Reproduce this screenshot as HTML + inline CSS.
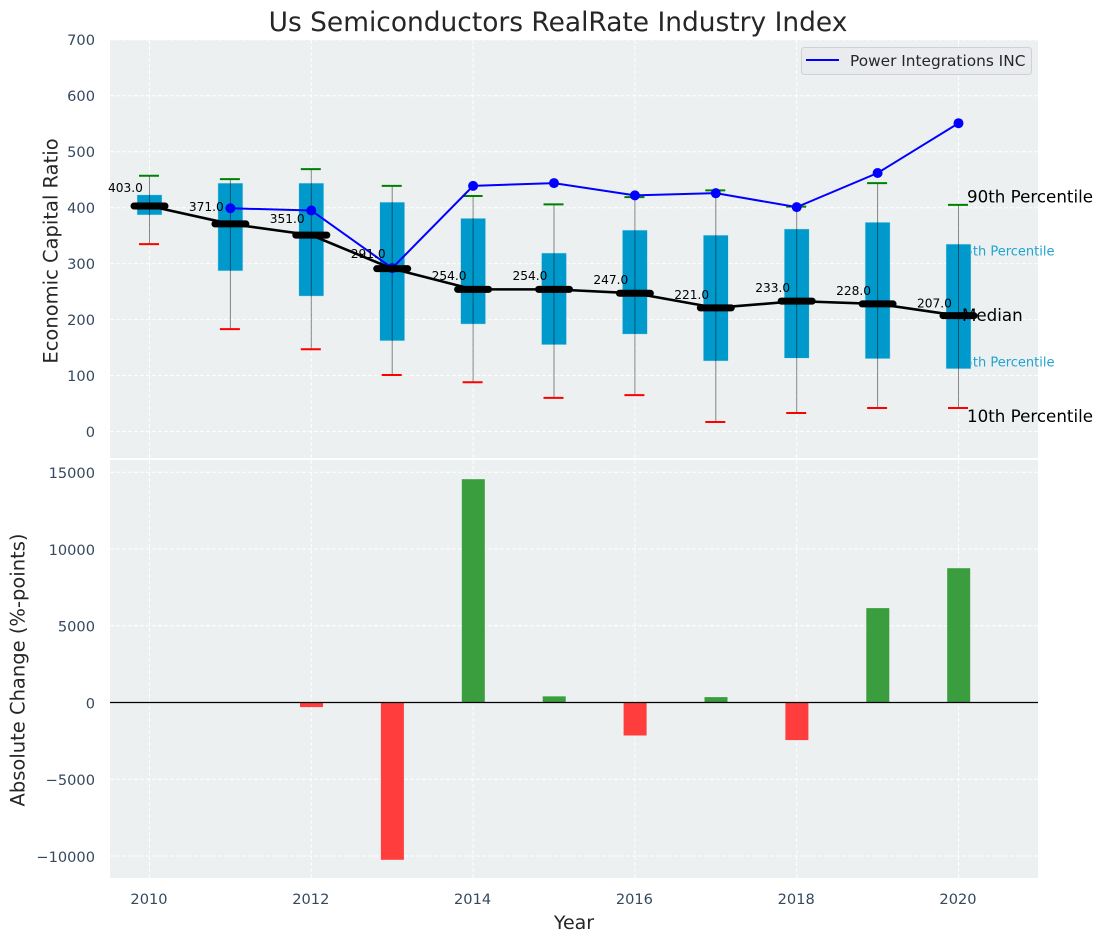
<!DOCTYPE html>
<html lang="en">
<head>
<meta charset="utf-8">
<title>Us Semiconductors RealRate Industry Index</title>
<style>
html,body{margin:0;padding:0;background:#fff;width:1102px;height:942px;overflow:hidden}
svg{display:block;font-family:"DejaVu Sans","Liberation Sans",sans-serif}
</style>
</head>
<body>
<svg id="chart" width="1102" height="942" viewBox="0 0 1102 942" xmlns="http://www.w3.org/2000/svg"></svg>
<script>
const years = [2010, 2011, 2012, 2013, 2014, 2015, 2016, 2017, 2018, 2019, 2020];
const p90 = [457, 451, 469, 439, 421, 406, 419, 431, 402, 444, 405];
const p75 = [423, 444, 444, 410, 381, 319, 360, 351, 362, 374, 335];
const medians = [403, 371, 351, 291, 254, 254, 247, 221, 233, 228, 207];
const p25 = [387, 287, 242, 162, 192, 155, 174, 126, 131, 130, 112];
const p10 = [335, 183, 147, 101, 88, 60, 65, 17, 33, 42, 42];
const companyYears = [2011, 2012, 2013, 2014, 2015, 2016, 2017, 2018, 2019, 2020];
const companyValues = [399, 395, 292, 439, 444, 422, 426, 401, 462, 551];
const changeYears = [2012, 2013, 2014, 2015, 2016, 2017, 2018, 2019, 2020];
const changeValues = [-300, -10250, 14550, 400, -2150, 350, -2450, 6150, 8750];
const xTicks = [2010, 2012, 2014, 2016, 2018, 2020];
const topTicks = [0, 100, 200, 300, 400, 500, 600, 700];
const bottomTicks = [-10000, -5000, 0, 5000, 10000, 15000];

const svg = document.getElementById('chart');
const NS = 'http://www.w3.org/2000/svg';
const x = v => 149.5 + (v - 2010) * 80.9;
const yTop = v => 431.5 - v * 0.5595;
const yBot = v => 702.5 - v * 0.015347;
const L = 110, R = 1038, T1 = 40, B1 = 458, T2 = 460, B2 = 878;
const tickFont = 14.6;

function make(tag, props, parent) {
  const e = document.createElementNS(NS, tag);
  for (const k in props) e.setAttribute(k, props[k]);
  (parent || svg).appendChild(e);
  return e;
}
function label(str, props, parent) {
  const e = make('text', props, parent);
  e.textContent = str;
  return e;
}

// panels
const topPanel = make('rect', {x: L, y: T1, width: R - L, height: B1 - T1, fill: '#ecf0f1'});


const bottomPanel = make('rect', {x: L, y: T2, width: R - L, height: B2 - T2, fill: '#ecf0f1'});



const gridStyle = {stroke: '#ffffff', 'stroke-width': 1, 'stroke-dasharray': '4 2', opacity: 0.95};

// vertical grid and x tick labels
xTicks.forEach(t => {
  const g1 = make('line', Object.assign({x1: x(t), x2: x(t), y1: T1, y2: B1}, gridStyle));
  
  
  const g2 = make('line', Object.assign({x1: x(t), x2: x(t), y1: T2, y2: B2}, gridStyle));
  
  
  const tl = label(String(t), {x: x(t) - 0.5, y: 904, 'text-anchor': 'middle', 'font-size': tickFont, fill: '#34495e'});
  
  
});

// top y grid and labels
topTicks.forEach(t => {
  const g = make('line', Object.assign({x1: L, x2: R, y1: yTop(t), y2: yTop(t)}, gridStyle));
  
  
  const tl = label(String(t), {x: 95, y: yTop(t) + 5.3, 'text-anchor': 'end', 'font-size': tickFont, fill: '#34495e'});
  
  
});

// bottom y grid and labels
bottomTicks.forEach(t => {
  const g = make('line', Object.assign({x1: L, x2: R, y1: yBot(t), y2: yBot(t)}, gridStyle));
  
  
  const txt = t < 0 ? '\u2212' + Math.abs(t) : String(t);
  const tl = label(txt, {x: 95, y: yBot(t) + 5.8, 'text-anchor': 'end', 'font-size': tickFont, fill: '#34495e'});
  
  
});

// small percentile annotations sit beneath the last box
const last = years.length - 1;
const note75 = label('75th Percentile', {x: 1054.5, y: yTop(p75[last]) + 11.5, 'text-anchor': 'end', 'font-size': 13, fill: '#1fa3d1'});


const note25 = label('25th Percentile', {x: 1054.5, y: yTop(p25[last]) - 2.5, 'text-anchor': 'end', 'font-size': 13, fill: '#1fa3d1'});



// boxes, whiskers, caps
years.forEach((yr, i) => {
  const cx = x(yr);
  const box = make('rect', {x: cx - 12.5, y: yTop(p75[i]), width: 25, height: yTop(p25[i]) - yTop(p75[i]), fill: '#0099cc', stroke: '#c8e6f0', 'stroke-width': 0.5});
  
  
  const whisk = make('line', {x1: cx, x2: cx, y1: yTop(p90[i]), y2: yTop(p10[i]), stroke: '#000', 'stroke-opacity': 0.45, 'stroke-width': 1});
  
  
  const capHi = make('line', {x1: cx - 10.5, x2: cx + 9.5, y1: yTop(p90[i]), y2: yTop(p90[i]), stroke: '#008000', 'stroke-width': 2});
  
  
  const capLo = make('line', {x1: cx - 10.5, x2: cx + 9.5, y1: yTop(p10[i]), y2: yTop(p10[i]), stroke: '#ff0000', 'stroke-width': 2});
  
  
});

// company line
const companyPts = companyYears.map((yr, i) => x(yr) + ',' + yTop(companyValues[i])).join(' ');
const companyLine = make('polyline', {points: companyPts, fill: 'none', stroke: '#0000ff', 'stroke-width': 2});


companyYears.forEach((yr, i) => {
  const dot = make('circle', {cx: x(yr), cy: yTop(companyValues[i]), r: 5, fill: '#0000ff'});
  
  
});

// median line and markers
const medianPts = years.map((yr, i) => x(yr) + ',' + yTop(medians[i])).join(' ');
const medianLine = make('polyline', {points: medianPts, fill: 'none', stroke: '#000', 'stroke-width': 2.6});


years.forEach((yr, i) => {
  const m = make('line', {x1: x(yr) - 15.5, x2: x(yr) + 15.5, y1: yTop(medians[i]), y2: yTop(medians[i]), stroke: '#000', 'stroke-width': 7, 'stroke-linecap': 'round'});
  
  
  const v = label(medians[i].toFixed(1), {x: x(yr) - 41.5, y: yTop(medians[i] * 1.05) - 2.5, 'font-size': 12.2, fill: '#000'});
  
  
});

// right-hand percentile annotations
const note90 = label('90th Percentile', {x: 967, y: yTop(p90[last]) - 2.5, 'font-size': 16.7, fill: '#000'});


const noteMed = label('Median', {x: 962, y: yTop(medians[last]) + 5.5, 'font-size': 16.7, fill: '#000'});


const note10 = label('10th Percentile', {x: 967, y: yTop(p10[last]) + 14, 'font-size': 16.7, fill: '#000'});



// bars
changeYears.forEach((yr, i) => {
  const v = changeValues[i];
  const y0 = yBot(Math.max(v, 0)), y1 = yBot(Math.min(v, 0));
  const bar = make('rect', {x: x(yr) - 11.3, y: y0, width: 23, height: y1 - y0, fill: v >= 0 ? '#3a9e3e' : '#ff3d3d'});
  
  
});
const zero = make('line', {x1: L, x2: R, y1: yBot(0), y2: yBot(0), stroke: '#000', 'stroke-width': 1.3});



// legend
const legendBox = make('rect', {x: 801.5, y: 47.5, width: 230, height: 27, rx: 3, fill: '#e9ebef', stroke: '#cfd1d4', 'stroke-width': 1});


const legendLine = make('line', {x1: 806, x2: 839, y1: 60, y2: 60, stroke: '#0000ff', 'stroke-width': 2});


const legendText = label('Power Integrations INC', {x: 850, y: 66, 'font-size': 15.35, fill: '#262626'});



// titles
const title = label('Us Semiconductors RealRate Industry Index', {x: 558, y: 31, 'text-anchor': 'middle', 'font-size': 26.45, fill: '#262626'});


const yTitleTop = label('Economic Capital Ratio', {x: 0, y: 0, transform: 'translate(57.5,251) rotate(-90)', 'text-anchor': 'middle', 'font-size': 19.5, fill: '#262626'});


const yTitleBot = label('Absolute Change (%-points)', {x: 0, y: 0, transform: 'translate(24.5,670) rotate(-90)', 'text-anchor': 'middle', 'font-size': 19.5, fill: '#262626'});


const xTitle = label('Year', {x: 574, y: 929, 'text-anchor': 'middle', 'font-size': 19, fill: '#262626'});


</script>
</body>
</html>
